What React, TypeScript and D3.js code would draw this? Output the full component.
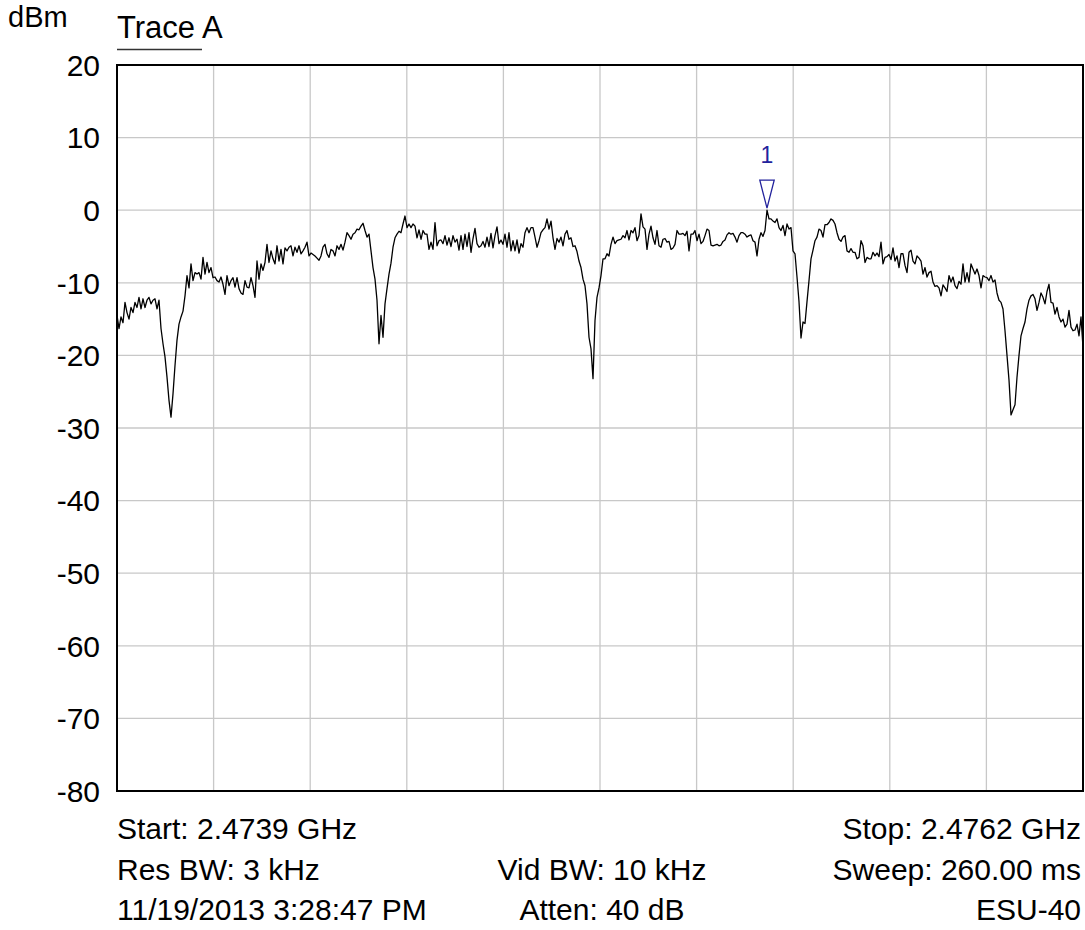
import React from 'react';
import * as d3 from 'd3';

// Trace A readings (dBm), evenly spaced sweep points from start to stop frequency
const traceSeg1 = [
  -14.5, -16.3, -14.7, -15.5, -12.7, -14.1, -15.0, -13.4, -14.1, -12.7,
  -13.4, -12.0, -13.6, -12.2, -13.4, -12.4, -12.0, -12.9, -12.4, -12.2,
  -13.6, -12.4, -16.3, -18.4, -20.2, -23.0, -26.2, -28.5, -25.3, -21.4,
  -17.9, -15.7, -14.7, -13.9, -11.8, -9.0, -10.7, -7.4, -9.7, -8.6,
  -8.8, -8.6, -9.5, -6.5, -8.8, -7.2, -8.6, -7.9, -9.3, -9.2,
  -9.7, -9.9, -9.2, -10.2, -11.6, -9.0, -10.4, -9.7, -9.3, -10.6,
  -9.3, -10.8, -11.4, -11.6, -9.7, -10.6, -10.7, -9.3, -10.4, -12.0,
  -7.0, -9.5, -7.4, -8.3, -7.2, -4.7, -7.2, -5.6, -6.7, -7.4,
  -4.9, -7.0, -5.4, -7.4, -5.2, -5.6, -5.1, -4.9, -6.3, -5.1,
  -5.8, -4.9, -6.0, -5.6, -5.1, -4.4, -6.3,
];
const traceSeg2 = [
  -5.9, -6.1, -6.3, -6.6, -6.9, -6.3, -5.1, -4.7, -6.0, -6.5,
  -5.4, -5.6, -6.3, -4.9, -5.4, -4.7, -5.5, -4.4, -3.1, -3.5,
  -4.0, -3.3, -3.1, -2.6, -2.7, -2.2, -1.8, -2.8, -3.7, -3.3,
  -5.6, -7.9, -9.5, -12.4, -18.4, -14.5, -17.5, -12.9, -10.8, -8.8,
  -7.3, -5.1, -3.8, -3.3, -2.9, -3.1, -1.9, -0.8, -2.4, -1.9,
  -2.4, -1.9, -2.2, -3.8, -2.7, -4.0, -2.8, -3.3, -3.3, -5.4,
  -4.4, -5.4, -1.7, -4.9, -4.2, -4.1, -4.6, -3.5, -4.8, -3.8,
  -5.0, -3.5, -4.4, -4.0, -5.5, -3.5, -5.4, -3.3, -5.0, -3.1,
  -5.8, -3.9, -2.5, -4.6, -5.1, -4.9, -4.3, -5.1, -3.7, -5.0,
  -3.2, -5.2, -3.5, -2.3, -4.6, -4.1, -4.7,
];
const traceSeg3 = [
  -3.3, -5.1, -3.1, -5.6, -4.2, -5.6, -4.1, -5.9, -4.6, -5.1,
  -3.1, -2.4, -3.1, -2.4, -2.4, -3.7, -5.1, -4.2, -3.1, -2.7,
  -2.4, -1.2, -2.6, -1.5, -3.8, -5.4, -3.9, -4.4, -3.7, -4.9,
  -3.3, -2.8, -4.0, -3.8, -5.0, -4.9, -5.7, -7.0, -7.9, -9.5,
  -10.4, -12.9, -17.5, -19.1, -23.2, -15.2, -12.0, -10.7, -9.0, -6.7,
  -6.7, -6.0, -6.3, -4.7, -3.7, -4.6, -4.2, -4.1, -4.0, -3.5,
  -3.8, -2.8, -4.1, -2.8, -3.1, -2.4, -4.2, -3.5, -0.5, -2.3,
  -2.6, -5.4, -3.3, -2.2, -3.8, -4.7, -2.8, -4.9, -5.1, -4.0,
  -3.9, -4.4, -4.3, -5.4, -5.2, -4.7, -2.8, -3.3, -3.3, -3.2,
  -3.5, -2.9, -5.6, -3.3, -3.3, -2.8, -4.2, -3.3,
];
const traceSeg4 = [
  -4.6, -4.3, -3.5, -2.6, -2.8, -4.8, -4.9, -4.8, -4.7, -4.9,
  -4.8, -4.3, -4.1, -3.4, -3.1, -3.3, -3.2, -3.7, -4.4, -3.5,
  -3.1, -3.1, -3.3, -3.7, -3.5, -3.4, -4.2, -4.4, -6.3, -4.0,
  -3.1, -3.6, -2.8, 0.0, -1.2, -1.2, -1.5, -1.7, -1.2, -2.4,
  -2.8, -2.1, -3.5, -1.9, -2.6, -2.4, -5.6, -6.0, -9.2, -12.6,
  -17.6, -15.4, -15.6, -12.6, -9.7, -6.7, -5.5, -4.2, -3.7, -2.6,
  -2.8, -3.7, -2.0, -2.0, -1.7, -1.2, -1.4, -1.9, -3.1, -4.0,
  -4.3, -3.7, -3.5, -5.6, -5.8, -5.3, -5.8, -5.8, -6.7, -6.5,
  -4.2, -4.9, -7.2, -6.5, -6.7, -6.7, -5.8, -6.3, -5.9, -6.4,
  -4.4, -7.4, -6.5, -6.4, -6.1, -6.8, -5.2,
];
const traceSeg5 = [
  -7.0, -6.3, -7.9, -6.0, -6.0, -7.6, -8.6, -5.8, -5.5, -7.0,
  -7.4, -6.3, -6.6, -7.0, -8.8, -7.9, -9.2, -8.6, -8.4, -9.9,
  -10.5, -10.4, -10.7, -11.8, -10.3, -10.7, -11.2, -9.0, -9.9, -9.2,
  -10.4, -10.8, -9.8, -10.2, -7.4, -9.9, -8.6, -9.9, -7.4, -8.1,
  -8.8, -8.1, -9.0, -10.7, -9.0, -9.2, -9.3, -9.7, -9.0, -9.9,
  -9.6, -11.4, -12.4, -12.7, -13.6, -16.6, -20.0, -23.4, -28.2, -27.5,
  -26.8, -23.0, -20.0, -17.3, -16.3, -15.4, -13.6, -12.4, -11.8, -11.6,
  -12.2, -13.8, -12.7, -11.4, -12.0, -12.9, -11.2, -10.2, -12.7, -12.8,
  -14.3, -13.4, -14.7, -15.4, -15.0, -16.1, -15.7, -13.8, -16.1, -16.6,
  -16.5, -15.7, -17.3, -14.7, -18.9,
];
const traceDbm = [...traceSeg1, ...traceSeg2, ...traceSeg3, ...traceSeg4, ...traceSeg5];

const startGHz = 2.4739;
const stopGHz = 2.4762;
const yTicks = [20, 10, 0, -10, -20, -30, -40, -50, -60, -70, -80];
const xDivisions = 10;
const yUnit = 'dBm';
const traceName = 'Trace A';
const markerLabel = '1';
const infoLeft = ['Start: 2.4739 GHz', 'Res BW: 3 kHz', '11/19/2013 3:28:47 PM'];
const infoCenter = ['', 'Vid BW: 10 kHz', 'Atten: 40 dB'];
const infoRight = ['Stop: 2.4762 GHz', 'Sweep: 260.00 ms', 'ESU-40'];

const W = 1085;
const H = 930;
const PL = 117;
const PR = 1083;
const PT = 65;
const PB = 791;
const FONT = '"Liberation Sans", Arial, Helvetica, sans-serif';
const FS = 30;
const MARKER_COLOR = '#22229c';

export default function App() {
  const n = traceDbm.length;
  const step = (stopGHz - startGHz) / (n - 1);
  const pts = traceDbm.map((v, i) => ({ f: startGHz + i * step, v }));

  const x = d3.scaleLinear().domain([startGHz, stopGHz]).range([PL, PR]);
  const y = d3.scaleLinear().domain([-80, 20]).range([PB, PT]);

  const line = d3
    .line<{ f: number; v: number }>()
    .x((d) => x(d.f))
    .y((d) => y(d.v));

  const vGrid = d3.range(1, xDivisions).map((i) => startGHz + (i * (stopGHz - startGHz)) / xDivisions);
  const mi = d3.maxIndex(traceDbm);
  const mx = x(pts[mi].f);
  const my = y(pts[mi].v);
  const centerX = (PL + PR) / 2;
  const rowY = [839, 880, 920];

  return (
    <svg
      width={W}
      height={H}
      style={{ position: 'absolute', left: 0, top: 0, background: '#fff' }}
      fontFamily={FONT}
    >
      <rect x={0} y={0} width={W} height={H} fill="#fff" />
      {vGrid.map((f, i) => (
        <line key={'v' + i} x1={x(f)} x2={x(f)} y1={PT} y2={PB} stroke="#c8c8c8" strokeWidth={1.3} />
      ))}
      {yTicks.map((t) => (
        <line key={'h' + t} x1={PL} x2={PR} y1={y(t)} y2={y(t)} stroke="#c8c8c8" strokeWidth={1.3} />
      ))}
      <rect x={PL} y={PT} width={PR - PL} height={PB - PT} fill="none" stroke="#000" strokeWidth={2} />
      {yTicks.map((t) => (
        <text key={'t' + t} x={100} y={y(t)} dy="0.36em" textAnchor="end" fontSize={FS} fill="#000">
          {t}
        </text>
      ))}
      <text x={8} y={27} fontSize={FS - 1} fill="#000">
        {yUnit}
      </text>
      <text x={PL} y={38} fontSize={FS + 1} fill="#000">
        {traceName}
      </text>
      <line x1={PL} x2={202} y1={49.5} y2={49.5} stroke="#333" strokeWidth={1.3} />
      <path d={line(pts) || ''} fill="none" stroke="#000" strokeWidth={1.3} strokeLinejoin="round" />
      <polygon
        points={`${mx},${my - 2} ${mx - 7.2},${my - 30} ${mx + 7.2},${my - 30}`}
        fill="none"
        stroke={MARKER_COLOR}
        strokeWidth={1.3}
      />
      <text x={mx} y={my - 47} textAnchor="middle" fontSize={23} fill={MARKER_COLOR}>
        {markerLabel}
      </text>
      {infoLeft.map((s, i) => (
        <text key={'l' + i} x={PL} y={rowY[i]} fontSize={FS} fill="#000">
          {s}
        </text>
      ))}
      {infoCenter.map((s, i) => (
        <text key={'c' + i} x={centerX + 2} y={rowY[i]} textAnchor="middle" fontSize={FS} fill="#000">
          {s}
        </text>
      ))}
      {infoRight.map((s, i) => (
        <text key={'r' + i} x={1081} y={rowY[i]} textAnchor="end" fontSize={FS} fill="#000">
          {s}
        </text>
      ))}
    </svg>
  );
}
